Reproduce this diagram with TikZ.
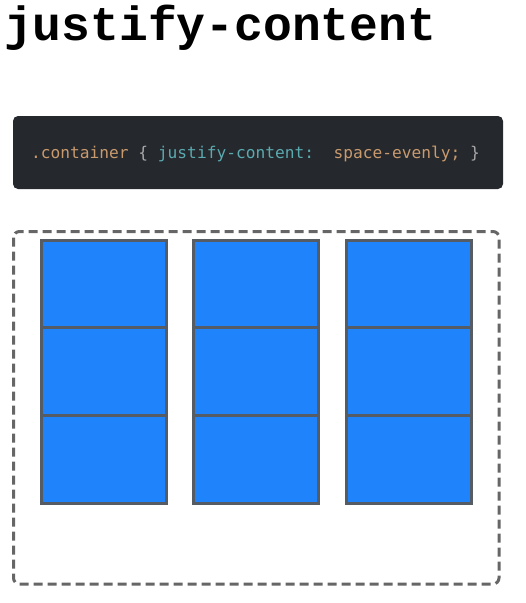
\documentclass[tikz,border=0pt]{standalone}
\usepackage{fontspec}
\setmonofont{Liberation Mono}
\newfontfamily\codefont{DejaVu Sans Mono}
\definecolor{codebg}{HTML}{25282C}
\definecolor{codeorange}{HTML}{C99A6E}
\definecolor{codeteal}{HTML}{5AAAB0}
\definecolor{codegray}{HTML}{A8A8A8}
\definecolor{cellblue}{HTML}{1F84FC}
\definecolor{cellborder}{HTML}{565C63}
\definecolor{dashgray}{HTML}{666666}
\tikzset{
  cell/.style={draw=cellborder, fill=cellblue, line width=3pt, minimum width=125pt, minimum height=87.7pt, inner sep=0pt, outer sep=0pt, anchor=north west},
}
\begin{document}
\begin{tikzpicture}[x=1pt,y=-1pt]
\useasboundingbox (0,0) rectangle (526,603);
% title
\node[anchor=base west, inner sep=0pt, font=\ttfamily\bfseries\fontsize{48}{48}\selectfont] (title) at (4,40) {justify-content};
% code box
\fill[codebg, rounded corners=5pt] (13,116) rectangle (503,189);
\node[anchor=base west, inner sep=0pt, font=\codefont\fontsize{16.2}{18}\selectfont] (code) at (31,158)
  {\textcolor{codeorange}{.container}\textcolor{codegray}{\ \{\ }\textcolor{codeteal}{justify-content:}\textcolor{codegray}{\ \ }\textcolor{codeorange}{space-evenly;}\textcolor{codegray}{\ \}}};
% container
\draw[dashgray, line width=3pt, dash pattern=on 9pt off 5pt, rounded corners=6pt] (13.5,231.5) rectangle (499,584);
% cells
\foreach \c/\x in {1/41,2/193,3/346}{
  \foreach \r/\y in {1/240,2/327.7,3/415.3}{
    \node[cell] (c\c r\r) at (\x,\y) {};
  }
}
\end{tikzpicture}
\end{document}
